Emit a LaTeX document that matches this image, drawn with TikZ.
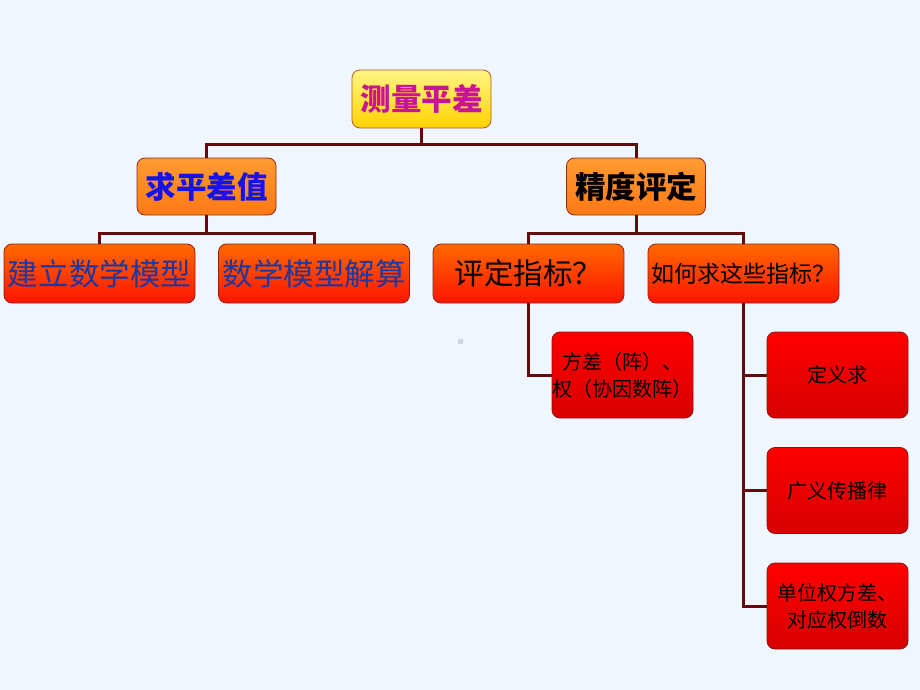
\documentclass[tikz,border=0pt]{standalone}
\usepackage{fontspec}
\setmainfont{Noto Sans CJK SC}
\definecolor{bgc}{RGB}{239,246,254}
\definecolor{sq}{RGB}{205,212,222}
\definecolor{aBd}{RGB}{180,90,40}
\definecolor{aTop}{RGB}{255,245,130}
\definecolor{aBot}{RGB}{255,210,0}
\definecolor{aTxt}{RGB}{200,20,150}
\definecolor{bBd}{RGB}{150,40,20}
\definecolor{bTop}{RGB}{255,155,50}
\definecolor{bBot}{RGB}{255,120,20}
\definecolor{bBlue}{RGB}{20,20,230}
\definecolor{cBd}{RGB}{150,30,20}
\definecolor{cTop}{RGB}{255,105,0}
\definecolor{cBot}{RGB}{255,20,0}
\definecolor{cBlue}{RGB}{30,55,160}
\definecolor{dBd}{RGB}{140,20,20}
\definecolor{dTop}{RGB}{255,0,0}
\definecolor{dBot}{RGB}{215,0,0}
\definecolor{lnc}{RGB}{100,10,10}
\begin{document}
\begin{tikzpicture}[x=1pt,y=-1pt,
  box/.style={draw=#1, rounded corners=8pt, align=center, inner sep=0pt, line width=0.8pt},
  lvA/.style={box=aBd, minimum width=139pt, minimum height=58pt,
     top color=aTop, bottom color=aBot,
     text=aTxt, font=\fontsize{30.5}{34}\selectfont\bfseries},
  lvB/.style={box=bBd, minimum width=139pt, minimum height=57pt,
     top color=bTop, bottom color=bBot,
     font=\fontsize{30.5}{34}\selectfont\bfseries},
  lvC/.style={box=cBd, minimum width=191pt, minimum height=59pt,
     top color=cTop, bottom color=cBot},
  lvD/.style={box=dBd, minimum width=141pt, minimum height=86pt,
     top color=dTop, bottom color=dBot,
     font=\fontsize{20}{27}\selectfont},
  conn/.style={draw=lnc, line width=3pt}
]
\fill[bgc] (0,0) rectangle (920,690);
\fill[sq] (457.5,338.5) rectangle (463,344);

\node[lvA] (top) at (421.5,99) {测量平差};
\node[lvB, text=bBlue] (qp) at (206.5,186.5) {求平差值};
\node[lvB, text=black] (jd) at (636,186.5) {精度评定};
\node[lvC, text=cBlue, font=\fontsize{30.5}{34}\selectfont] (jl) at (99.5,273.5) {建立数学模型};
\node[lvC, text=cBlue, font=\fontsize{30.5}{34}\selectfont] (js) at (314,273.5) {数学模型解算};
\node[lvC, text=black, font=\fontsize{29.5}{34}\selectfont] (pd) at (528.5,273.5) {评定指标？};
\node[lvC, text=black, font=\fontsize{23}{28}\selectfont] (rh) at (743.5,273.5) {如何求这些指标？};
\node[lvD] (fc) at (622.5,375) {方差（阵）、\\权（协因数阵）};
\node[lvD] (dy) at (837.5,375) {定义求};
\node[lvD] (gy) at (837.5,490.5) {广义传播律};
\node[lvD] (dw) at (837.5,606) {单位权方差、\\对应权倒数};

\draw[conn] (top.south) -- ++(0,16) -| (qp.north);
\draw[conn] (top.south) -- ++(0,16) -| (jd.north);
\draw[conn] (qp.south) -- ++(0,18) -| (jl.north);
\draw[conn] (qp.south) -- ++(0,18) -| (js.north);
\draw[conn] (jd.south) -- ++(0,18) -| (pd.north);
\draw[conn] (jd.south) -- ++(0,18) -| (rh.north);
\draw[conn] (pd.south) |- (fc.west);
\draw[conn] (rh.south) |- (dy.west);
\draw[conn] (rh.south) |- (gy.west);
\draw[conn] (rh.south) |- (dw.west);
\end{tikzpicture}
\end{document}
